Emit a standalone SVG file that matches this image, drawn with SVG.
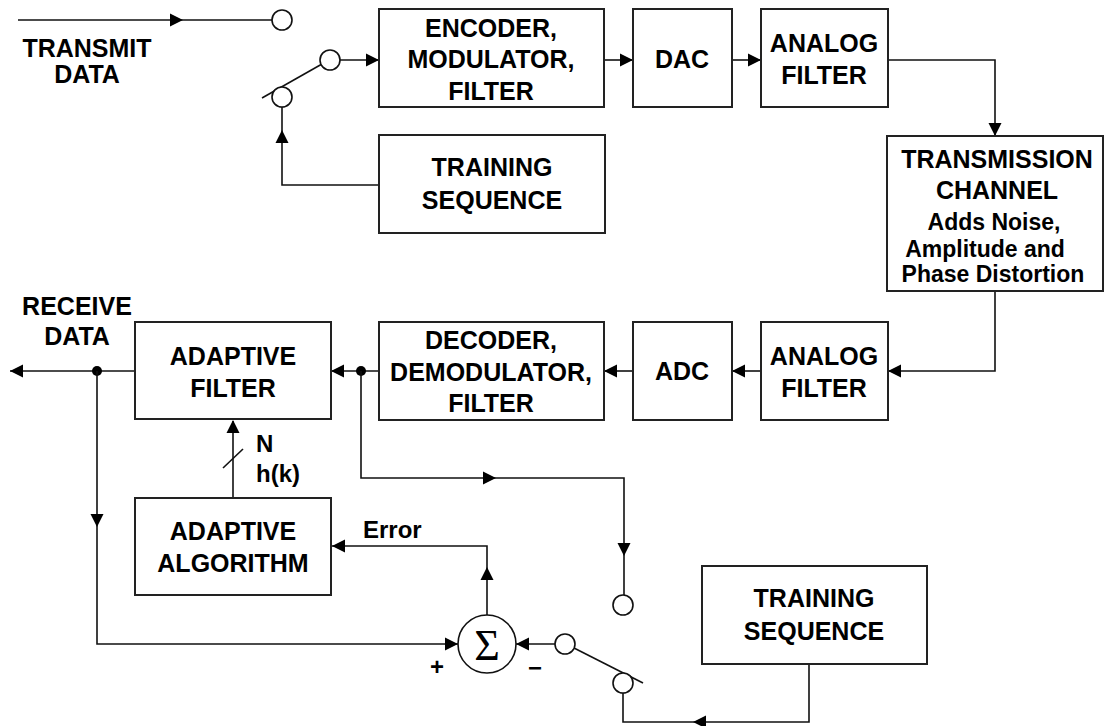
<svg xmlns="http://www.w3.org/2000/svg" xmlns:xlink="http://www.w3.org/1999/xlink" width="1106" height="726" viewBox="0 0 1106 726">
<style>
.box{fill:#fff;stroke:#222;stroke-width:2}
.t{font-family:"Liberation Sans",Arial,sans-serif;font-weight:bold;font-size:25px;fill:#000;text-anchor:middle}
.s{font-size:23px}
.l{text-anchor:start}
.w{fill:none;stroke:#111;stroke-width:1.6}
.c{fill:#fff;stroke:#111;stroke-width:1.6}
.ah{fill:#000}
</style>
<defs>
<path id="ah" d="M0,0 L-13,-6.5 L-13,6.5 Z"/>
</defs>
<rect width="1106" height="726" fill="#fff"/>

<g id="connectors">
<path class="w" d="M18,20 H272"/>
<use href="#ah" class="ah" transform="translate(183,20)"/>
<path class="w" d="M340,60 H379"/>
<use href="#ah" class="ah" transform="translate(379,60)"/>
<path class="w" d="M379,185 H282 V107"/>
<use href="#ah" class="ah" transform="translate(282,130) rotate(-90)"/>
<path class="w" d="M604,60 H633"/>
<use href="#ah" class="ah" transform="translate(633,60)"/>
<path class="w" d="M732,60 H761"/>
<use href="#ah" class="ah" transform="translate(761,60)"/>
<path class="w" d="M888,60 H995 V136"/>
<use href="#ah" class="ah" transform="translate(995,136) rotate(90)"/>
<path class="w" d="M995,291 V371 H888"/>
<use href="#ah" class="ah" transform="translate(888,371) rotate(180)"/>
<path class="w" d="M761,371 H732"/>
<use href="#ah" class="ah" transform="translate(732,371) rotate(180)"/>
<path class="w" d="M633,371 H604"/>
<use href="#ah" class="ah" transform="translate(604,371) rotate(180)"/>
<path class="w" d="M379,371 H331"/>
<use href="#ah" class="ah" transform="translate(331,371) rotate(180)"/>
<circle cx="361" cy="371" r="5" fill="#000"/>
<path class="w" d="M135,371 H10"/>
<use href="#ah" class="ah" transform="translate(10,371) rotate(180)"/>
<circle cx="97" cy="371" r="5" fill="#000"/>
<path class="w" d="M97,371 V644 H458"/>
<use href="#ah" class="ah" transform="translate(97,527) rotate(90)"/>
<use href="#ah" class="ah" transform="translate(458,644)"/>
<path class="w" d="M233,498 V421"/>
<use href="#ah" class="ah" transform="translate(233,420) rotate(-90)"/>
<path class="w" d="M223,468 L243,449"/>
<path class="w" d="M487,615 V546 H332"/>
<use href="#ah" class="ah" transform="translate(487,567) rotate(-90)"/>
<use href="#ah" class="ah" transform="translate(332,546) rotate(180)"/>
<path class="w" d="M361,371 V478 H624 V595"/>
<use href="#ah" class="ah" transform="translate(496,478)"/>
<use href="#ah" class="ah" transform="translate(624,556) rotate(90)"/>
<path class="w" d="M555,644 H516"/>
<use href="#ah" class="ah" transform="translate(516,644) rotate(180)"/>
<path class="w" d="M809,664 V722 H623 V693"/>
<use href="#ah" class="ah" transform="translate(693,722) rotate(180)"/>
</g>

<g id="transmit-data">
<text class="t" x="87" y="57">TRANSMIT</text>
<text class="t" x="87" y="83">DATA</text>
</g>

<g id="tx-switch">
<path class="w" d="M262,98 L322,64"/>
<circle class="c" cx="282" cy="20" r="10"/>
<circle class="c" cx="330" cy="60" r="10"/>
<circle class="c" cx="282" cy="97" r="10"/>
</g>

<g id="encoder">
<rect class="box" x="379" y="9" width="225" height="98"/>
<text class="t" x="491" y="37">ENCODER,</text>
<text class="t" x="491" y="68">MODULATOR,</text>
<text class="t" x="491" y="100">FILTER</text>
</g>

<g id="dac">
<rect class="box" x="633" y="9" width="99" height="98"/>
<text class="t" x="682" y="68">DAC</text>
</g>

<g id="analog-filter-tx">
<rect class="box" x="761" y="9" width="127" height="98"/>
<text class="t" x="824" y="52">ANALOG</text>
<text class="t" x="824" y="84">FILTER</text>
</g>

<g id="training-sequence-tx">
<rect class="box" x="379" y="135" width="226" height="98"/>
<text class="t" x="492" y="176">TRAINING</text>
<text class="t" x="492" y="209">SEQUENCE</text>
</g>

<g id="channel">
<rect class="box" x="887" y="136" width="216" height="155"/>
<text class="t" x="997" y="168">TRANSMISSION</text>
<text class="t" x="997" y="199">CHANNEL</text>
<text class="t s" x="994" y="230">Adds Noise,</text>
<text class="t s" x="985" y="257">Amplitude and</text>
<text class="t s" x="993" y="282">Phase Distortion</text>
</g>

<g id="analog-filter-rx">
<rect class="box" x="761" y="322" width="127" height="98"/>
<text class="t" x="824" y="365">ANALOG</text>
<text class="t" x="824" y="397">FILTER</text>
</g>

<g id="adc">
<rect class="box" x="633" y="322" width="99" height="98"/>
<text class="t" x="682" y="380">ADC</text>
</g>

<g id="decoder">
<rect class="box" x="379" y="322" width="225" height="98"/>
<text class="t" x="491" y="349">DECODER,</text>
<text class="t" x="491" y="381">DEMODULATOR,</text>
<text class="t" x="491" y="412">FILTER</text>
</g>

<g id="adaptive-filter">
<rect class="box" x="135" y="322" width="196" height="97"/>
<text class="t" x="233" y="365">ADAPTIVE</text>
<text class="t" x="233" y="397">FILTER</text>
</g>

<g id="receive-data">
<text class="t" x="77" y="315">RECEIVE</text>
<text class="t" x="77" y="345">DATA</text>
</g>

<g id="coeff-label">
<text class="t l" x="256" y="452" style="font-size:24px">N</text>
<text class="t l" x="256" y="482" style="font-size:24px">h(k)</text>
</g>

<g id="adaptive-algorithm">
<rect class="box" x="135" y="498" width="196" height="97"/>
<text class="t" x="233" y="540">ADAPTIVE</text>
<text class="t" x="233" y="572">ALGORITHM</text>
</g>

<g id="error-label">
<text class="t l" x="363" y="538" style="font-size:24px">Error</text>
</g>

<g id="summer">
<circle class="c" cx="487" cy="644" r="29"/>
<text x="487" y="660" style="font-family:'Liberation Serif','Times New Roman',serif;font-size:44px;text-anchor:middle">Σ</text>
<text class="t" x="437" y="675" style="font-size:24px">+</text>
<text class="t" x="535" y="676" style="font-size:24px">−</text>
</g>

<g id="rx-switch">
<path class="w" d="M574,648 L643,683"/>
<circle class="c" cx="623" cy="605" r="10"/>
<circle class="c" cx="565" cy="644" r="10"/>
<circle class="c" cx="623" cy="683" r="10"/>
</g>

<g id="training-sequence-rx">
<rect class="box" x="702" y="566" width="225" height="98"/>
<text class="t" x="814" y="607">TRAINING</text>
<text class="t" x="814" y="640">SEQUENCE</text>
</g>
</svg>
